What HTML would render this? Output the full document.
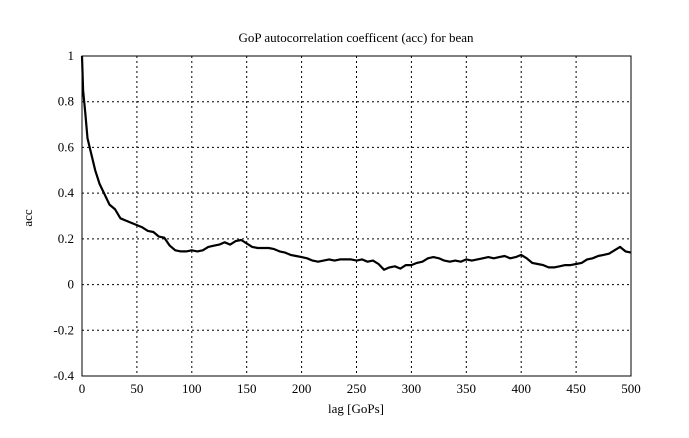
<!DOCTYPE html>
<html><head><meta charset="utf-8"><style>
html,body{margin:0;padding:0;background:#fff;}
svg text{font-family:"Liberation Serif",serif;font-size:13px;fill:#000;}
</style></head><body>
<svg width="689" height="433">
<text x="356" y="42" text-anchor="middle">GoP autocorrelation coefficent (acc) for bean</text>
<g id="grid"></g>
<g id="axes"></g>
<path id="line" fill="none" stroke="#000" stroke-width="2.2" stroke-linejoin="round"></path>
<rect x="82" y="56" width="549" height="320" fill="none" stroke="#000" stroke-width="1"></rect>
<text x="356" y="413" text-anchor="middle">lag [GoPs]</text>
<text x="0" y="0" text-anchor="middle" transform="translate(32,218) rotate(-90)">acc</text>
</svg>
<script>
const lags=[0,1,3,5,8,12,16,20,25,30,35,40,45,50,55,60,65,70,75,80,85,90,95,100,105,110,115,120,125,130,135,140,145,150,155,160,165,170,175,180,185,190,195,200,205,210,215,220,225,230,235,240,245,250,255,260,265,270,275,280,285,290,295,300,305,310,315,320,325,330,335,340,345,350,355,360,365,370,375,380,385,390,395,400,405,410,415,420,425,430,435,440,445,450,455,460,465,470,475,480,485,490,495,500];
const accValues=[1.0,0.85,0.75,0.64,0.58,0.5,0.44,0.4,0.35,0.33,0.29,0.28,0.27,0.26,0.25,0.235,0.23,0.21,0.205,0.17,0.15,0.145,0.145,0.15,0.145,0.15,0.165,0.17,0.175,0.185,0.175,0.19,0.195,0.18,0.165,0.16,0.16,0.16,0.155,0.145,0.14,0.13,0.125,0.12,0.115,0.105,0.1,0.105,0.11,0.105,0.11,0.11,0.11,0.105,0.11,0.1,0.105,0.09,0.065,0.075,0.08,0.07,0.085,0.085,0.095,0.1,0.115,0.12,0.115,0.105,0.1,0.105,0.1,0.11,0.105,0.11,0.115,0.12,0.115,0.12,0.125,0.115,0.12,0.13,0.115,0.095,0.09,0.085,0.075,0.075,0.08,0.085,0.085,0.09,0.095,0.11,0.115,0.125,0.13,0.135,0.15,0.165,0.145,0.14];
const xTicks=[0,50,100,150,200,250,300,350,400,450,500];
const yTicks=[-0.4,-0.2,0,0.2,0.4,0.6,0.8,1];
const yTickLabels=["-0.4","-0.2","0","0.2","0.4","0.6","0.8","1"];
const X0=82,X1=631,Y0=376,Y1=56;
const xs=v=>X0+(v-0)/(500-0)*(X1-X0);
const ys=v=>Y0-(v+0.4)/(1.4)*(Y0-Y1);
const NS="http://www.w3.org/2000/svg";
const grid=document.getElementById('grid'),axes=document.getElementById('axes');
function mk(t,a,p){const e=document.createElementNS(NS,t);for(const k in a)e.setAttribute(k,a[k]);p.appendChild(e);return e;}
xTicks.forEach(v=>{const x=xs(v);
 const g=mk('line',{x1:x,x2:x,y1:Y1,y2:Y0,stroke:'#000','stroke-width':1,'stroke-dasharray':'2,3'},grid);
 
 
 const t=mk('text',{x:x,y:Y0+17,'text-anchor':'middle'},axes);t.textContent=v;
 
 
});
yTicks.forEach((v,i)=>{const y=ys(v);
 const g=mk('line',{x1:X0,x2:X1,y1:y,y2:y,stroke:'#000','stroke-width':1,'stroke-dasharray':'2,3'},grid);
 
 
 const t=mk('text',{x:X0-8,y:y+4,'text-anchor':'end'},axes);t.textContent=yTickLabels[i];
 
 
});
document.getElementById('line').setAttribute('d',lags.map((l,i)=>(i?'L':'M')+xs(l).toFixed(1)+','+ys(accValues[i]).toFixed(1)).join(''));
</script>
</body></html>
